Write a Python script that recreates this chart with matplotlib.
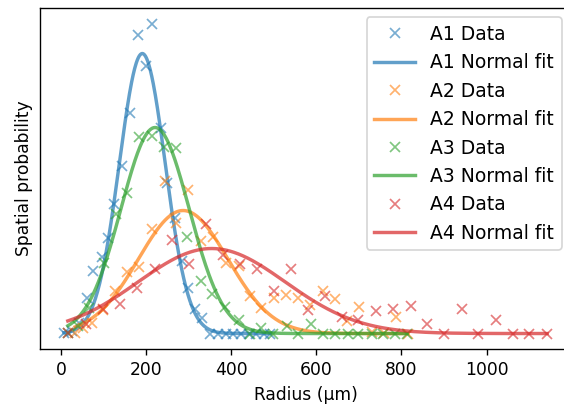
import matplotlib
matplotlib.use("Agg")
import matplotlib.pyplot as plt
import numpy as np

# Radius (µm) and spatial probability, per sample
A1_R = [7, 26, 42, 61, 75, 96, 110, 125, 143, 162, 181, 200, 214, 235, 249, 268,
        284, 298, 315, 331, 350, 369, 388, 404, 423, 442, 458, 477, 491]
A1_P = [0.001, 0.003, 0.011, 0.036, 0.063, 0.077, 0.096, 0.130, 0.168, 0.221, 0.299,
        0.268, 0.310, 0.206, 0.151, 0.116, 0.073, 0.046, 0.025, 0.016, 0.0, 0.0,
        0.0, 0.0, 0.0, 0.0, 0.0, 0.0, 0.0]

A2_R = [33, 52, 73, 99, 127, 155, 183, 214, 244, 270, 298, 329, 357, 388, 418,
        444, 470, 500, 529, 557, 585, 616, 644, 672, 700, 731, 759, 787, 815]
A2_P = [0.001, 0.006, 0.011, 0.024, 0.043, 0.062, 0.067, 0.105, 0.153, 0.111, 0.144,
        0.093, 0.097, 0.071, 0.068, 0.038, 0.026, 0.036, 0.039, 0.036, 0.029, 0.043,
        0.035, 0.013, 0.027, 0.002, 0.001, 0.017, 0.0]

A3_R = [16, 40, 66, 101, 129, 155, 183, 214, 242, 270, 296, 329, 355, 385, 418,
        444, 470, 498, 531, 557, 587, 616, 644, 674, 698, 731, 757, 785, 813]
A3_P = [0.001, 0.008, 0.026, 0.071, 0.120, 0.141, 0.197, 0.198, 0.187, 0.186, 0.097,
        0.053, 0.040, 0.027, 0.014, 0.0, 0.006, 0.0, 0.008, 0.0, 0.010, 0.0, 0.0,
        0.0, 0.0, 0.0, 0.0, 0.0, 0.0]

A4_R = [16, 59, 99, 139, 179, 221, 261, 301, 341, 381, 421, 461, 501, 540, 580,
        620, 660, 698, 740, 780, 822, 860, 900, 942, 980, 1022, 1062, 1100, 1142]
A4_P = [0.001, 0.010, 0.025, 0.030, 0.046, 0.065, 0.094, 0.070, 0.110, 0.079, 0.070,
        0.065, 0.043, 0.065, 0.024, 0.038, 0.017, 0.014, 0.023, 0.025, 0.028, 0.010,
        0.0, 0.025, 0.0, 0.014, 0.0, 0.0, 0.0]

# normal fit parameters (mean, std, peak height)
FIT_MU = [191, 287, 221, 354]
FIT_SIGMA = [54, 105, 80, 173]
FIT_PEAK = [0.280, 0.123, 0.206, 0.085]

NAMES = ["A1", "A2", "A3", "A4"]
COLORS = ["tab:blue", "tab:orange", "tab:green", "tab:red"]
RADII = [A1_R, A2_R, A3_R, A4_R]
PROBS = [A1_P, A2_P, A3_P, A4_P]

fig = plt.figure(figsize=(564 / 123, 419 / 123), dpi=123)
# right spine sits just outside the image, as in the cropped original
ax = fig.add_axes([0.0706, 0.167, 0.9422, 0.8138])

for name, color, r, p, mu, sig, peak in zip(NAMES, COLORS, RADII, PROBS,
                                            FIT_MU, FIT_SIGMA, FIT_PEAK):
    r = np.asarray(r, dtype=float)
    ax.plot(r, p, "x", color=color, alpha=0.6, label=f"{name} Data")
    xs = np.linspace(r.min(), r.max(), 400)
    ax.plot(xs, peak * np.exp(-(xs - mu) ** 2 / (2 * sig ** 2)), color=color,
            alpha=0.7, lw=2, label=f"{name} Normal fit")

ax.set_yticks([])
ax.set_xlabel("Radius (µm)")
ax.set_ylabel("Spatial probability")
ax.legend(loc="upper right", fontsize=11, handlelength=2.2)

fig.savefig("out.png", dpi=123)
